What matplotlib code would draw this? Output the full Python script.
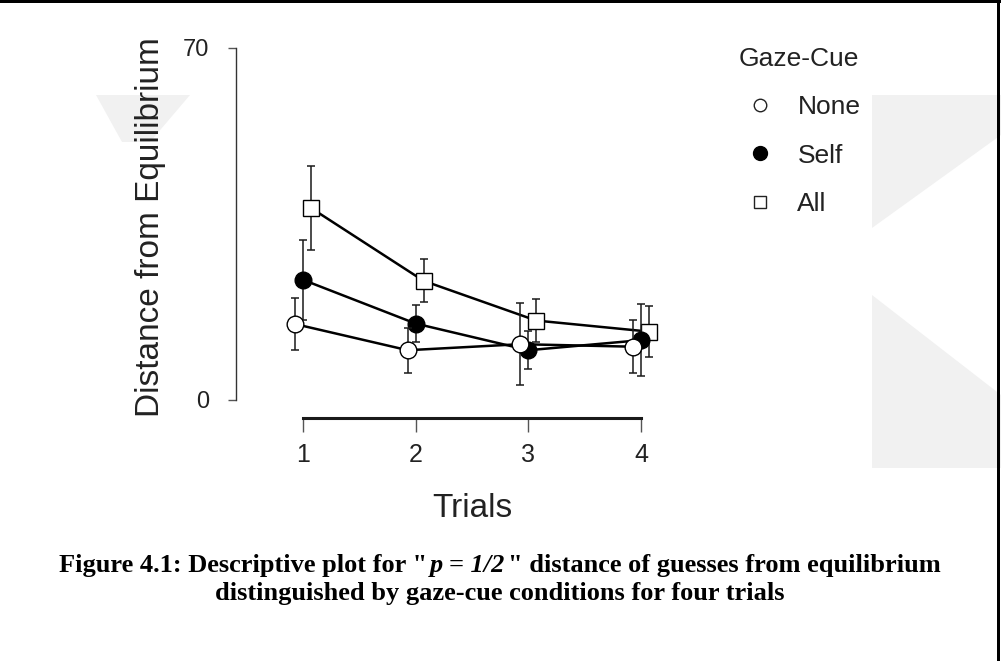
import matplotlib
matplotlib.use("Agg")
import matplotlib.pyplot as plt
from matplotlib.lines import Line2D
from matplotlib.patches import Polygon, Rectangle

# ---- data -------------------------------------------------------------
trials = [1, 2, 3, 4]
tick_labels = ["1", "2", "3", "4"]
conditions = ["None", "Self", "All"]

none_mean = [15.1, 9.9, 11.1, 10.6]
none_err = [5.1, 4.5, 8.1, 5.3]
self_mean = [23.9, 15.2, 9.9, 11.9]
self_err = [7.9, 3.6, 3.8, 7.2]
all_mean = [38.2, 23.7, 15.8, 13.6]
all_err = [8.3, 4.3, 4.3, 5.0]

y_ticks = [0, 70]

# ---- figure -----------------------------------------------------------
W, H = 1001, 661
DPI = 100
fig = plt.figure(figsize=(W / DPI, H / DPI), dpi=DPI)
fig.patch.set_facecolor("white")

plt.rcParams["font.family"] = ["Liberation Sans", "DejaVu Sans"]


def px_box(x0, y0, x1, y1):
    """Figure-fraction rectangle from pixel corners (y measured from top)."""
    return [x0 / W, 1 - y1 / H, (x1 - x0) / W, (y1 - y0) / H]


def px_pts(pts):
    return [(x / W, 1 - y / H) for x, y in pts]


# faint background watermark shapes
wm_color = "#f1f1f1"
for shape in (
    [(96, 95), (190, 95), (150, 142), (122, 142)],
    [(872, 95), (1001, 95), (1001, 135), (872, 228)],
    [(872, 295), (1001, 395), (1001, 468), (872, 468)],
):
    fig.add_artist(Polygon(px_pts(shape), closed=True, transform=fig.transFigure,
                           facecolor=wm_color, edgecolor="none", zorder=0))

# page frame: top and right rules
fig.add_artist(Rectangle((0, 1 - 3 / H), 1, 3 / H, transform=fig.transFigure,
                         facecolor="black", edgecolor="none", zorder=5))
fig.add_artist(Rectangle(((W - 4) / W, 0), 3 / W, 1, transform=fig.transFigure,
                         facecolor="black", edgecolor="none", zorder=5))

# ---- axes -------------------------------------------------------------
ax_left, ax_right = 236, 660
y_top, y_zero = 48, 400
ax = fig.add_axes(px_box(ax_left, y_top, ax_right, y_zero))
ax.patch.set_alpha(0)

px_per_trial = 112.7
x_min = 1 - (303 - ax_left) / px_per_trial
x_max = 4 + (ax_right - 641) / px_per_trial
ax.set_xlim(x_min, x_max)
ax.set_ylim(0, 70)

dodge = {"None": -0.07, "Self": 0.0, "All": 0.07}
series = {
    "None": (none_mean, none_err, "o", "white"),
    "Self": (self_mean, self_err, "o", "black"),
    "All": (all_mean, all_err, "s", "white"),
}

# draw All first so None ends up on top where markers overlap
order = ["All", "Self", "None"]
for k, name in enumerate(order):
    mean, err, marker, face = series[name]
    xs = [t + dodge[name] for t in trials]
    z = 3 + k
    ax.errorbar(xs, mean, yerr=err, fmt="none", ecolor="#1a1a1a",
                elinewidth=1.1, capsize=3.0, capthick=1.1, zorder=z)
    ax.plot(xs, mean, color="black", linewidth=1.8, zorder=z + 0.1)
    ax.plot(xs, mean, linestyle="none", marker=marker, markersize=12,
            markerfacecolor=face, markeredgecolor="black",
            markeredgewidth=1.0, zorder=z + 0.2)

# spines
for side in ("top", "right"):
    ax.spines[side].set_visible(False)
ax.spines["left"].set_bounds(0, 70)
ax.spines["left"].set_linewidth(1.0)
ax.spines["left"].set_color("#333333")
ax.spines["bottom"].set_bounds(1, 4)
ax.spines["bottom"].set_position(("outward", 13))
ax.spines["bottom"].set_linewidth(2.2)
ax.spines["bottom"].set_color("#1a1a1a")

ax.set_xticks(trials)
ax.set_xticklabels(tick_labels)
ax.set_yticks(y_ticks)
ax.set_yticklabels([str(v) for v in y_ticks])
ax.tick_params(axis="x", length=10, width=1.0, color="#555555",
               labelsize=18, labelcolor="#222222", pad=8)
ax.tick_params(axis="y", length=6, width=1.0, color="#555555",
               labelsize=17, labelcolor="#222222", pad=13)

ax.set_xlabel("Trials", fontsize=24, color="#222222")
ax.xaxis.set_label_coords((472 - ax_left) / (ax_right - ax_left),
                          (y_zero - 493) / (y_zero - y_top))
ax.xaxis.label.set_va("top")

ax.set_ylabel("Distance from Equilibrium", fontsize=24, color="#222222")
ax.yaxis.set_label_coords((150 - ax_left) / (ax_right - ax_left), 0.49)
ax.yaxis.label.set_va("center")

# ---- legend -----------------------------------------------------------
handles = [
    Line2D([], [], linestyle="none", marker="o", markersize=9,
           markerfacecolor="white", markeredgecolor="#222222", markeredgewidth=1.0),
    Line2D([], [], linestyle="none", marker="o", markersize=10,
           markerfacecolor="black", markeredgecolor="black"),
    Line2D([], [], linestyle="none", marker="s", markersize=9,
           markerfacecolor="white", markeredgecolor="#222222", markeredgewidth=1.0),
]
leg = fig.legend(handles, conditions, title="Gaze-Cue", frameon=False,
                 loc="upper left", bbox_to_anchor=(738 / W, 1 - 47 / H),
                 bbox_transform=fig.transFigure, borderpad=0, borderaxespad=0,
                 fontsize=19, title_fontsize=19, handlelength=1.65,
                 handletextpad=0.6, labelspacing=0.92)
for t in leg.get_texts():
    t.set_color("#222222")
leg.get_title().set_color("#222222")

# ---- caption ----------------------------------------------------------
cap_kw = dict(fontfamily=["Liberation Serif", "DejaVu Serif"], fontweight="bold",
              fontsize=19, color="black", va="baseline", ha="left")
renderer = fig.canvas.get_renderer()
parts = [
    ('Figure 4.1: Descriptive plot for "', "normal"),
    ("p = 1/2", "italic"),
    ('" distance of guesses from equilibrium', "normal"),
]
pieces = []
for s, style in parts:
    t = fig.text(0, 1 - 572 / H, s, fontstyle=style, **cap_kw)
    pieces.append(t)
widths = [p.get_window_extent(renderer).width for p in pieces]
gap = 2.5
total = sum(widths) + gap * (len(widths) - 1)
x = 500 - total / 2
for p, w in zip(pieces, widths):
    p.set_x(x / W)
    x += w + gap

fig.text(500 / W, 1 - 600 / H, "distinguished by gaze-cue conditions for four trials",
         **{**cap_kw, "ha": "center"})

fig.savefig("out.png", dpi=DPI, facecolor="white")
